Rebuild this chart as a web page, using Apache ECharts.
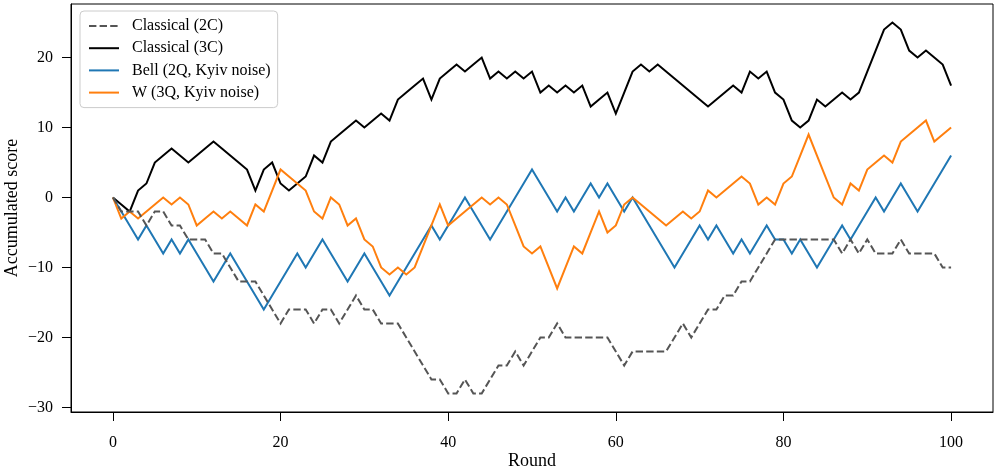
<!DOCTYPE html>
<html>
<head>
<meta charset="utf-8">
<script src="https://cdn.jsdelivr.net/npm/echarts@6/dist/echarts.min.js"></script>
<style>
html,body{margin:0;padding:0;background:#fff;}
#chart{width:996px;height:473px;}
</style>
</head>
<body>
<div id="chart"></div>
<script>
const rounds = Array.from({length: 101}, (_, i) => i);
const seriesNames = ['Classical (2C)', 'Classical (3C)', 'Bell (2Q, Kyiv noise)', 'W (3Q, Kyiv noise)'];
const classical2C = [0,-2,-2,-2,-4,-2,-2,-4,-4,-6,-6,-6,-8,-8,-10,-12,-12,-12,-14,-16,
  -18,-16,-16,-16,-18,-16,-16,-18,-16,-14,-16,-16,-18,-18,-18,-20,-22,-24,-26,-26,
  -28,-28,-26,-28,-28,-26,-24,-24,-22,-24,-22,-20,-20,-18,-20,-20,-20,-20,-20,-20,
  -22,-24,-22,-22,-22,-22,-22,-20,-18,-20,-18,-16,-16,-14,-14,-12,-12,-10,-8,-6,
  -6,-6,-6,-6,-6,-6,-6,-8,-6,-8,-6,-8,-8,-8,-6,-8,-8,-8,-8,-10,-10];
const classical3C = [0,-1,-2,1,2,5,6,7,6,5,6,7,8,7,6,5,4,1,4,5,
  2,1,2,3,6,5,8,9,10,11,10,11,12,11,14,15,16,17,14,17,
  18,19,18,19,20,17,18,17,18,17,18,15,16,15,16,15,16,13,14,15,
  12,15,18,19,18,19,18,17,16,15,14,13,14,15,16,15,18,17,18,15,
  14,11,10,11,14,13,14,15,14,15,18,21,24,25,24,21,20,21,20,19,16];
const bell2Q = [0,-2,-4,-6,-4,-6,-8,-6,-8,-6,-8,-10,-12,-10,-8,-10,-12,-14,-16,-14,
  -12,-10,-8,-10,-8,-6,-8,-10,-12,-10,-8,-10,-12,-14,-12,-10,-8,-6,-4,-6,
  -4,-2,0,-2,-4,-6,-4,-2,0,2,4,2,0,-2,0,-2,0,2,0,2,
  0,-2,0,-2,-4,-6,-8,-10,-8,-6,-4,-6,-4,-6,-8,-6,-8,-6,-4,-6,
  -6,-8,-6,-8,-10,-8,-6,-4,-6,-4,-2,0,-2,0,2,0,-2,0,2,4,6];
const w3Q = [0,-3,-2,-3,-2,-1,0,-1,0,-1,-4,-3,-2,-3,-2,-3,-4,-1,-2,1,
  4,3,2,1,-2,-3,0,-1,-4,-3,-6,-7,-10,-11,-10,-11,-10,-7,-4,-1,
  -4,-3,-2,-1,0,-1,0,-1,-4,-7,-8,-7,-10,-13,-10,-7,-8,-5,-2,-5,
  -4,-1,0,-1,-2,-3,-4,-3,-2,-3,-2,1,0,1,2,3,2,-1,0,-1,
  2,3,6,9,6,3,0,-1,2,1,4,5,6,5,8,9,10,11,8,9,10];
const xTicks = [0, 20, 40, 60, 80, 100];
const yTicks = [-30, -20, -10, 0, 10, 20];

const colors = ['#555555', '#000000', '#1f77b4', '#ff7f0e'];
const dataSets = [classical2C, classical3C, bell2Q, w3Q];
const FONT = '"Liberation Serif", "DejaVu Serif", serif';
const fmt = v => String(v).replace('-', '\u2212');

const chart = echarts.init(document.getElementById('chart'), null, {renderer: 'canvas'});
chart.setOption({
  animation: false,
  backgroundColor: '#ffffff',
  grid: {left: 71, right: 3, top: 4, bottom: 61, show: true, borderColor: '#000', borderWidth: 1,
         containLabel: false, outerBoundsMode: 'none'},
  legend: {
    orient: 'vertical', left: 80, top: 11,
    data: seriesNames,
    itemWidth: 30, itemHeight: 14, itemGap: 6.2,
    padding: [7, 7, 7, 8],
    backgroundColor: 'rgba(255,255,255,0.8)',
    borderColor: '#cccccc', borderWidth: 1, borderRadius: 4,
    itemStyle: {opacity: 0},
    textStyle: {fontFamily: FONT, fontSize: 16, color: '#000', padding: [0, 0, 0, 8]}
  },
  xAxis: {
    type: 'value', min: -5, max: 105,
    name: 'Round', nameLocation: 'middle', nameGap: 40, nameMoveOverlap: false,
    nameTextStyle: {fontFamily: FONT, fontSize: 18, color: '#000'},
    splitLine: {show: false},
    axisLine: {show: true, onZero: false, lineStyle: {color: '#000', width: 1}},
    axisTick: {show: true, length: 9, lineStyle: {color: '#000'}, customValues: xTicks},
    axisLabel: {fontFamily: FONT, fontSize: 16, color: '#000', margin: 23, customValues: xTicks, formatter: fmt}
  },
  yAxis: {
    type: 'value', min: -30.65, max: 27.65,
    name: 'Accumulated score', nameLocation: 'middle', nameGap: 50, nameRotate: 90, nameMoveOverlap: false,
    nameTextStyle: {fontFamily: FONT, fontSize: 18, color: '#000'},
    splitLine: {show: false},
    axisLine: {show: true, onZero: false, lineStyle: {color: '#000', width: 1}},
    axisTick: {show: true, length: 9, lineStyle: {color: '#000'}, customValues: yTicks},
    axisLabel: {fontFamily: FONT, fontSize: 16, color: '#000', margin: 18, customValues: yTicks, formatter: fmt}
  },
  series: seriesNames.map((name, k) => ({
    name: name,
    type: 'line',
    data: rounds.map((r, i) => [r, dataSets[k][i]]),
    showSymbol: false,
    symbol: 'none',
    color: colors[k],
    lineStyle: {color: colors[k], width: 2, type: k === 0 ? [7.4, 3.2] : 'solid', cap: 'butt', join: 'miter'},
    itemStyle: {color: colors[k]},
    z: k === 0 ? 3 : 2
  }))
});
</script>
</body>
</html>
